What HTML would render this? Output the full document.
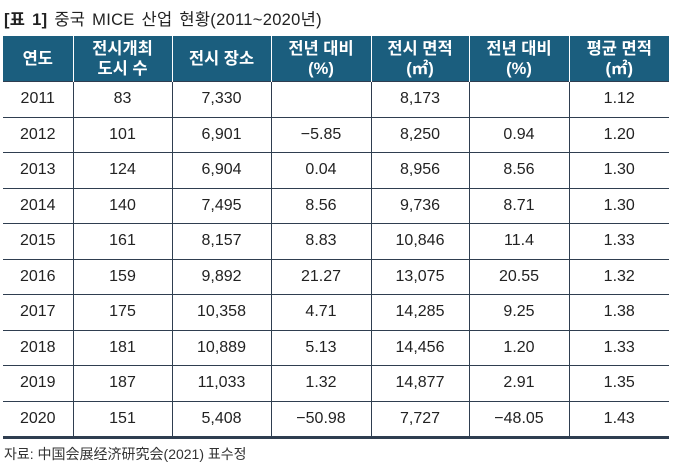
<!DOCTYPE html>
<html><head><meta charset="utf-8">
<style>
body{margin:0;width:680px;height:466px;background:#fff;font-family:"Liberation Sans","Noto Sans CJK KR",sans-serif;position:relative;overflow:hidden}
#title{position:absolute;left:4px;top:6px;font-size:16.5px;color:#222;white-space:nowrap;letter-spacing:0.3px;word-spacing:2px}
#title b{font-weight:bold}
table{position:absolute;left:3px;top:36px;border-collapse:collapse;table-layout:fixed;width:666px}
th{background:#1b5e7e;color:#fff;font-weight:bold;font-size:16.5px;line-height:20px;height:45px;padding:0;border-left:1.5px solid #fff;text-align:center}
th:first-child{border-left:none}
td{height:34.5px;padding:0;text-align:center;font-size:16px;color:#222;border-top:1px solid #2f3e50;border-left:1px solid #2f3e50}
td:first-child{border-left:none}
tr:last-child td{border-bottom:3px solid #2f3e50}
#src{position:absolute;left:4px;top:444px;font-size:14px;color:#333;white-space:nowrap}
</style></head><body>
<div id="title"><b>[표 1]</b> 중국 MICE 산업 현황(2011~2020년)</div>
<table>
<colgroup><col style="width:70px"><col style="width:99px"><col style="width:99px"><col style="width:100px"><col style="width:98px"><col style="width:100px"><col style="width:100px"></colgroup>
<thead><tr>
<th>연도</th>
<th>전시개최<br>도시 수</th>
<th>전시 장소</th>
<th>전년 대비<br>(%)</th>
<th>전시 면적<br>(㎡)</th>
<th>전년 대비<br>(%)</th>
<th>평균 면적<br>(㎡)</th>
</tr></thead>
<tbody id="tb"></tbody>
</table>
<div id="src">자료: 中国会展经济研究会(2021) 표수정</div>
<script>
const years=["2011","2012","2013","2014","2015","2016","2017","2018","2019","2020"];
const cities=["83","101","124","140","161","159","175","181","187","151"];
const venues=["7,330","6,901","6,904","7,495","8,157","9,892","10,358","10,889","11,033","5,408"];
const venueChg=["","−5.85","0.04","8.56","8.83","21.27","4.71","5.13","1.32","−50.98"];
const area=["8,173","8,250","8,956","9,736","10,846","13,075","14,285","14,456","14,877","7,727"];
const areaChg=["","0.94","8.56","8.71","11.4","20.55","9.25","1.20","2.91","−48.05"];
const avgArea=["1.12","1.20","1.30","1.30","1.33","1.32","1.38","1.33","1.35","1.43"];
const tb=document.getElementById('tb');
years.forEach((y,i)=>{
 const tr=document.createElement('tr');
 
 
 [y,cities[i],venues[i],venueChg[i],area[i],areaChg[i],avgArea[i]].forEach(v=>{
  const td=document.createElement('td');
  
  
  td.textContent=v;tr.appendChild(td);
 });
 tb.appendChild(tr);
});
</script>
</body></html>
